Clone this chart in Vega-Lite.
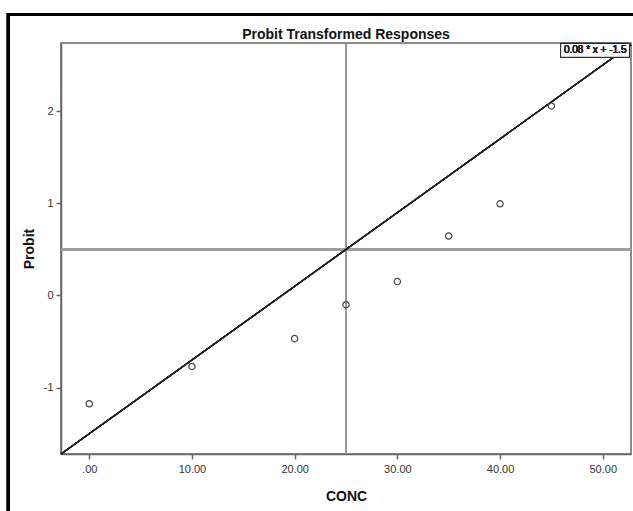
{
  "$schema": "https://vega.github.io/schema/vega-lite/v6.json",
  "width": 570,
  "height": 411,
  "autosize": {"type": "none"},
  "padding": {"left": 61, "top": 43, "right": 2, "bottom": 57},
  "background": "white",
  "title": {
    "text": "Probit Transformed Responses",
    "font": "Liberation Sans",
    "fontSize": 14,
    "fontWeight": "bold",
    "color": "#111",
    "anchor": "middle",
    "frame": "group",
    "offset": -29
  },
  "config": {
    "view": {"stroke": "#666", "strokeWidth": 1.5},
    "axis": {
      "grid": false,
      "domainColor": "#666",
      "domainWidth": 1.5,
      "tickColor": "#666",
      "tickWidth": 1.5,
      "tickSize": 5,
      "labelFont": "Liberation Sans",
      "labelFontSize": 11,
      "labelColor": "#333",
      "titleFont": "Liberation Sans",
      "titleFontSize": 14,
      "titleFontWeight": "bold",
      "titleColor": "#111"
    }
  },
  "data": {
    "values": [
      {"CONC": 0, "Probit": -1.175},
      {"CONC": 10, "Probit": -0.77},
      {"CONC": 20, "Probit": -0.468},
      {"CONC": 25, "Probit": -0.1},
      {"CONC": 30, "Probit": 0.151},
      {"CONC": 35, "Probit": 0.645},
      {"CONC": 40, "Probit": 0.995},
      {"CONC": 45, "Probit": 2.057}
    ]
  },
  "layer": [
    {
      "mark": {"type": "rule", "color": "#999", "strokeWidth": 1.5},
      "encoding": {"x": {"datum": 25, "type": "quantitative"}}
    },
    {
      "mark": {"type": "rule", "color": "#999", "strokeWidth": 1.5},
      "encoding": {"y": {"datum": 0.5, "type": "quantitative"}}
    },
    {
      "mark": {"type": "rule", "color": "#222", "strokeWidth": 1.2},
      "encoding": {
        "x": {"datum": -2.75, "type": "quantitative"},
        "y": {"datum": -1.72, "type": "quantitative"},
        "x2": {"datum": 52.75},
        "y2": {"datum": 2.72}
      }
    },
    {
      "mark": {"type": "point", "shape": "circle", "filled": false, "size": 40, "color": "#444", "strokeWidth": 1.2, "opacity": 1},
      "encoding": {
        "x": {
          "field": "CONC",
          "type": "quantitative",
          "title": "CONC",
          "scale": {"domain": [-2.75, 52.75], "nice": false, "zero": false},
          "axis": {
            "values": [0, 10, 20, 30, 40, 50],
            "labelExpr": "datum.value == 0 ? '.00' : format(datum.value, '.2f')",
            "titlePadding": 15,
            "labelPadding": 4
          }
        },
        "y": {
          "field": "Probit",
          "type": "quantitative",
          "title": "Probit",
          "scale": {"domain": [-1.72, 2.74], "nice": false, "zero": false},
          "axis": {"values": [-1, 0, 1, 2], "labelExpr": "'' + datum.value", "titlePadding": 7, "labelPadding": 3}
        }
      }
    },
    {
      "mark": {"type": "rect", "fill": "white", "stroke": "#222", "strokeWidth": 1},
      "encoding": {
        "x": {"datum": 45.9, "type": "quantitative"},
        "x2": {"datum": 52.6},
        "y": {"datum": 2.735, "type": "quantitative"},
        "y2": {"datum": 2.585}
      }
    },
    {
      "mark": {"type": "text", "text": "0.08 * x + -1.5", "font": "Liberation Sans", "fontSize": 10, "fontWeight": "normal", "color": "#222", "align": "right", "baseline": "middle", "dx": -3},
      "encoding": {
        "x": {"datum": 52.6, "type": "quantitative"},
        "y": {"datum": 2.66, "type": "quantitative"}
      }
    },
    {
      "mark": {"type": "rect", "fill": null, "fillOpacity": 0, "stroke": "#000", "strokeWidth": 2.5, "clip": false},
      "encoding": {
        "x": {"datum": -7.9, "type": "quantitative"},
        "x2": {"datum": 60},
        "y": {"datum": 3.05, "type": "quantitative"},
        "y2": {"datum": -3}
      }
    }
  ]
}
